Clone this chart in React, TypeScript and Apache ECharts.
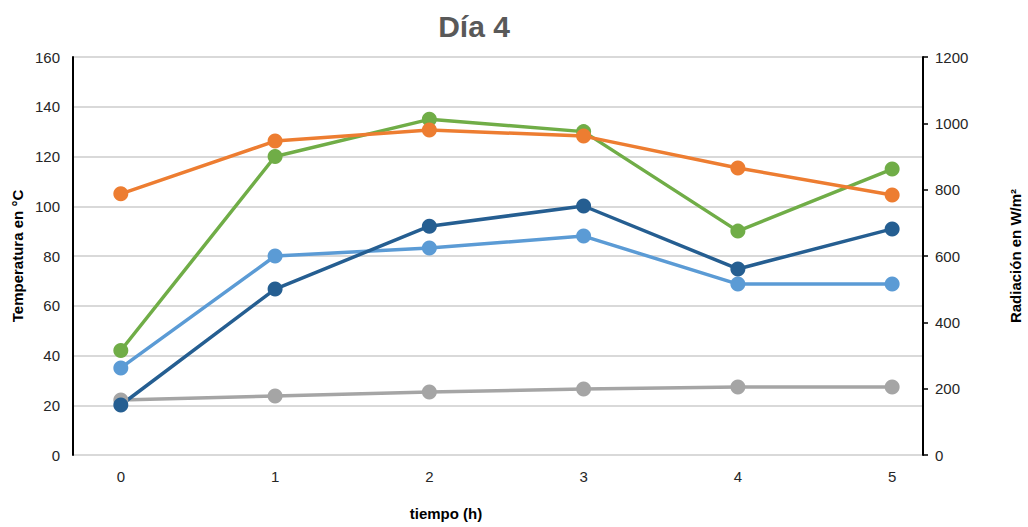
import React, { useEffect, useRef } from "react";
import * as echarts from "echarts";

// Hours of the day's test
const hours = [0, 1, 2, 3, 4, 5];

// Temperatures (°C, left axis)
const tempOrange = [105, 126.2, 130.7, 128.2, 115.4, 104.5];
const tempDarkBlue = [20.1, 66.7, 92, 100.1, 74.8, 90.9];
const tempLightBlue = [35, 80, 83.2, 88, 68.7, 68.7];
const tempAmbient = [22.1, 23.7, 25.3, 26.5, 27.3, 27.3];

// Solar radiation (W/m², right axis)
const radiation = [315, 900, 1012, 975, 675, 862];

const leftTicks = [0, 20, 40, 60, 80, 100, 120, 140, 160];
const rightTicks = [0, 200, 400, 600, 800, 1000, 1200];

const FONT = "Liberation Sans, Arial, sans-serif";

const pairs = (vals: number[]) => hours.map((h, i) => [h, vals[i]]);

export default function App() {
  const ref = useRef<HTMLDivElement>(null);

  useEffect(() => {
    if (!ref.current) return;
    const chart = echarts.init(ref.current, null, { renderer: "svg" });

    const line = (name: string, color: string, vals: number[], yAxisIndex = 0) => ({
      name,
      type: "line",
      yAxisIndex,
      data: pairs(vals),
      symbol: "circle",
      symbolSize: 15,
      lineStyle: { color, width: 3.5 },
      itemStyle: { color },
      z: 2,
    });

    const tickLabel = { color: "#262626", fontSize: 15, fontFamily: FONT };

    chart.setOption({
      animation: false,
      backgroundColor: "#ffffff",
      textStyle: { fontFamily: FONT },
      grid: { left: 73, right: 105, top: 57, bottom: 72 },
      xAxis: {
        type: "value",
        min: -0.31,
        max: 5.2,
        axisLine: { show: false },
        axisTick: { show: false },
        splitLine: { show: false },
        axisLabel: { ...tickLabel, customValues: hours, margin: 14 },
      },
      yAxis: [
        {
          type: "value",
          min: 0,
          max: leftTicks[leftTicks.length - 1],
          interval: 20,
          position: "left",
          axisLine: { show: true, onZero: false, lineStyle: { color: "#000000", width: 2 } },
          axisTick: { show: false },
          splitLine: { show: true, lineStyle: { color: "#d9d9d9", width: 2 } },
          axisLabel: { ...tickLabel, margin: 13 },
        },
        {
          type: "value",
          min: 0,
          max: rightTicks[rightTicks.length - 1],
          interval: 200,
          position: "right",
          axisLine: { show: true, onZero: false, lineStyle: { color: "#000000", width: 2 } },
          axisTick: { show: true, length: 5, lineStyle: { color: "#000000", width: 1.5 } },
          splitLine: { show: false },
          axisLabel: { ...tickLabel, margin: 12, formatter: (v: number) => String(v) },
        },
      ],
      series: [
        line("Ambiente", "#a5a5a5", tempAmbient),
        line("Radiación", "#70ad47", radiation, 1),
        line("T1", "#ed7d31", tempOrange),
        line("T3", "#5b9bd5", tempLightBlue),
        line("T2", "#255e91", tempDarkBlue),
      ],
      graphic: [
        {
          type: "text",
          x: 474,
          y: 26,
          style: {
            text: "Día 4",
            font: `bold 30px ${FONT}`,
            fill: "#595959",
            align: "center",
            verticalAlign: "middle",
          },
        },
        {
          type: "text",
          x: 446,
          y: 513,
          style: {
            text: "tiempo (h)",
            font: `bold 15px ${FONT}`,
            fill: "#000000",
            align: "center",
            verticalAlign: "middle",
          },
        },
        {
          type: "text",
          x: 17,
          y: 256,
          rotation: Math.PI / 2,
          style: {
            text: "Temperatura en °C",
            font: `bold 15px ${FONT}`,
            fill: "#000000",
            align: "center",
            verticalAlign: "middle",
          },
        },
        {
          type: "text",
          x: 1015,
          y: 256,
          rotation: Math.PI / 2,
          style: {
            text: "Radiación en W/m²",
            font: `bold 15px ${FONT}`,
            fill: "#000000",
            align: "center",
            verticalAlign: "middle",
          },
        },
      ],
    });

    return () => chart.dispose();
  }, []);

  return (
    <div
      ref={ref}
      style={{ position: "fixed", left: 0, top: 0, width: 1028, height: 527 }}
    />
  );
}
